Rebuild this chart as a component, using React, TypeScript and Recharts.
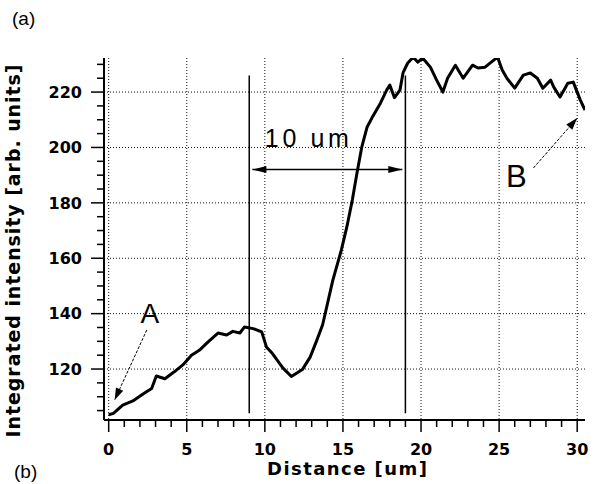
import React from "react";
import {
  CartesianGrid,
  Line,
  LineChart,
  ReferenceDot,
  ReferenceLine,
  XAxis,
  YAxis,
} from "recharts";

// profile
const distance = [
  0.0, 0.3, 0.9, 1.55, 2.2, 2.75, 3.05, 3.6, 4.2, 4.75, 5.3, 5.85, 6.35, 7.0, 7.55, 7.95, 8.4, 8.7,
  9.25, 9.8, 10.1, 10.5, 11.15, 11.7, 12.4, 12.9, 13.3, 13.7, 14.35, 14.9, 15.25, 15.6, 15.9, 16.2,
  16.55, 16.85, 17.4, 17.8, 18.0, 18.3, 18.65, 18.85, 19.15, 19.5, 19.8, 20.1, 20.6, 21.0, 21.4,
  21.7, 22.2, 22.7, 23.3, 23.65, 24.1, 24.9, 25.2, 25.5, 26.0, 26.55, 27.0, 27.45, 27.8, 28.3, 28.5,
  28.9, 29.4, 29.75, 30.2, 30.5,
];
const intensity = [
  103.5, 104, 107, 108.5, 111, 113, 117.5, 116.5, 119, 121.5, 125, 127, 129.7, 133, 132.3, 133.6, 133,
  135.2, 134.6, 133.4, 128, 125.5, 120.4, 117.3, 119.8, 124.3, 130, 136, 152, 163, 171.3, 181, 190.8,
  200, 207.4, 210.6, 216, 220.7, 222.5, 218, 220.7, 227, 230.5, 232.6, 230.8, 232.3, 229, 224.3, 220,
  225, 229.7, 225, 229.7, 228.7, 229, 232.6, 228, 225, 221.4, 226.1, 226.9, 225, 221.4, 224.3, 221.8,
  218.2, 223.2, 223.6, 217.1, 213.5,
];

const xTicks = [0, 1, 2, 3, 4, 5, 6, 7, 8, 9, 10, 11, 12, 13, 14, 15, 16, 17, 18, 19, 20, 21, 22, 23, 24, 25, 26, 27, 28, 29, 30];
const yTicks = [105, 110, 115, 120, 125, 130, 135, 140, 145, 150, 155, 160, 165, 170, 175, 180, 185, 190, 195, 200, 205, 210, 215, 220, 225, 230];
const gridX = [0, 5, 10, 15, 20, 25, 30];
const gridY = [120, 140, 160, 180, 200, 220];

const data = distance.map((x, i) => ({ x, v: intensity[i] }));

const BOLD = { fontFamily: "'DejaVu Sans', sans-serif", fontWeight: 700, fill: "#000" } as const;
const THIN = { fontFamily: "'Liberation Sans', Arial, sans-serif", fill: "#000" } as const;

function XTick({ x, y, payload }: any) {
  const major = payload.value % 5 === 0;
  return (
    <g>
      <line x1={x} x2={x} y1={y} y2={y + (major ? 12 : 7)} stroke="#000" strokeWidth={1.5} />
      {major && (
        <text x={x} y={y + 35} textAnchor="middle" fontSize={16} {...BOLD}>
          {payload.value}
        </text>
      )}
    </g>
  );
}

function YTick({ x, y, payload }: any) {
  const major = payload.value % 20 === 0;
  return (
    <g>
      <line x1={x - (major ? 13 : 7)} x2={x} y1={y} y2={y} stroke="#000" strokeWidth={1.5} />
      {major && (
        <text x={x - 22} y={y} dy="0.36em" textAnchor="end" fontSize={16} {...BOLD}>
          {payload.value}
        </text>
      )}
    </g>
  );
}

function arrow(opts: { dash?: string; width: number; head: number; half: number; both?: boolean }) {
  return (p: any) => {
    const { x1, y1, x2, y2 } = p;
    const a = Math.atan2(y2 - y1, x2 - x1);
    const tip = (tx: number, ty: number, ang: number) => {
      const bx = tx - opts.head * Math.cos(ang);
      const by = ty - opts.head * Math.sin(ang);
      const nx = -Math.sin(ang) * opts.half;
      const ny = Math.cos(ang) * opts.half;
      return `${tx},${ty} ${bx + nx},${by + ny} ${bx - nx},${by - ny}`;
    };
    return (
      <g>
        <line x1={x1} y1={y1} x2={x2} y2={y2} stroke="#000" strokeWidth={opts.width} strokeDasharray={opts.dash} />
        <polygon points={tip(x2, y2, a)} fill="#000" />
        {opts.both && <polygon points={tip(x1, y1, a + Math.PI)} fill="#000" />}
      </g>
    );
  };
}

const textAt = (label: string, size: number, anchor: "start" | "middle", len?: number) => (p: any) =>
  (
    <text x={p.cx} y={p.cy} fontSize={size} textAnchor={anchor} textLength={len} {...THIN}>
      {label}
    </text>
  );

export default function App() {
  return (
    <div style={{ position: "absolute", left: 0, top: 0, width: 595, height: 484, background: "#fff" }}>
      <LineChart width={595} height={484} data={data} margin={{ top: 58, right: 10, left: 0, bottom: 0 }}>
        <CartesianGrid
          stroke="#111"
          strokeDasharray="1 2"
          verticalValues={gridX}
          horizontalValues={gridY}
        />
        <XAxis
          type="number"
          dataKey="x"
          domain={[-0.3, 30.5]}
          ticks={xTicks}
          interval={0}
          allowDataOverflow
          height={64}
          tickSize={0}
          tickMargin={0}
          tickLine={false}
          tick={<XTick />}
          axisLine={{ stroke: "#000", strokeWidth: 2 }}
        />
        <YAxis
          type="number"
          domain={[101.6, 232.3]}
          ticks={yTicks}
          interval={0}
          allowDataOverflow
          width={104}
          tickSize={0}
          tickMargin={0}
          tickLine={false}
          tick={<YTick />}
          axisLine={{ stroke: "#000", strokeWidth: 2 }}
        />
        <ReferenceLine segment={[{ x: 9, y: 104 }, { x: 9, y: 226 }]} stroke="#000" strokeWidth={1.5} />
        <ReferenceLine segment={[{ x: 19, y: 104 }, { x: 19, y: 226 }]} stroke="#000" strokeWidth={1.5} />
        <ReferenceLine
          segment={[{ x: 9.2, y: 192 }, { x: 18.8, y: 192 }]}
          shape={arrow({ width: 1.5, head: 14, half: 3.5, both: true })}
        />
        <ReferenceLine
          segment={[{ x: 2.44, y: 134.1 }, { x: 0.38, y: 108.8 }]}
          shape={arrow({ width: 1, head: 12, half: 4, dash: "3 1.5" })}
        />
        <ReferenceLine
          segment={[{ x: 27.2, y: 192.6 }, { x: 30.0, y: 210.6 }]}
          shape={arrow({ width: 1, head: 12, half: 4, dash: "3 1.5" })}
        />
        <ReferenceDot x={10} y={200} r={0} shape={textAt("10 um", 25, "start", 84)} />
        <ReferenceDot x={2.63} y={136.6} r={0} shape={textAt("A", 28, "middle")} />
        <ReferenceDot x={26.1} y={185.7} r={0} shape={textAt("B", 31, "middle")} />
        <Line
          type="linear"
          dataKey="v"
          stroke="#000"
          strokeWidth={3}
          strokeLinejoin="round"
          dot={false}
          isAnimationActive={false}
        />
      </LineChart>
      <svg
        width={595}
        height={484}
        style={{ position: "absolute", left: 0, top: 0, pointerEvents: "none" }}
      >
        <text x={12} y={25} fontSize={19} {...THIN}>(a)</text>
        <text x={14} y={478} fontSize={19} {...THIN}>(b)</text>
        <text x={347} y={475} textAnchor="middle" fontSize={18} textLength={160} {...BOLD}>
          Distance [um]
        </text>
        <text
          x={20}
          y={251}
          transform="rotate(-90 20 251)"
          textAnchor="middle"
          fontSize={19}
          textLength={373}
          {...BOLD}
        >
          Integrated intensity [arb. units]
        </text>
      </svg>
    </div>
  );
}
